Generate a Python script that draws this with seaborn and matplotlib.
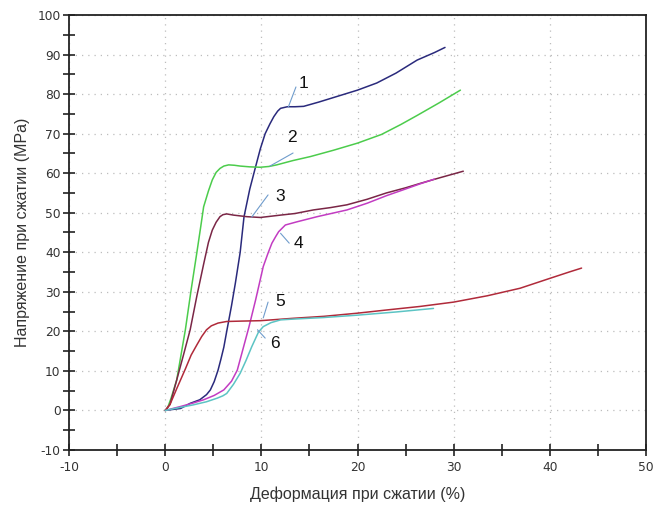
import matplotlib
matplotlib.use("Agg")
import matplotlib.pyplot as plt
import seaborn as sns
import pandas as pd
from matplotlib.ticker import MultipleLocator

# ---- data ----
x1 = [0, 0.6, 1.6, 2.6, 3.6, 4.3, 4.7, 5.1, 5.5, 5.8, 6.1, 6.4, 6.9, 7.3, 7.8, 8.2, 8.8, 9.4, 9.9, 10.4, 10.9, 11.3, 11.7, 12.0, 12.7, 13.5, 14.4, 16, 18, 20, 22, 24, 26.2, 28, 29.1]
y1 = [0, 0.2, 0.5, 1.8, 2.7, 4.0, 5.2, 7.3, 10.2, 13.0, 16.0, 20.0, 26.5, 32.2, 40.0, 49, 56, 61.6, 66.2, 70, 72.5, 74.3, 75.7, 76.4, 76.8, 76.8, 76.9, 78, 79.5, 81, 82.8, 85.3, 88.6, 90.5, 91.8]

x2 = [0, 0.2, 0.6, 1.2, 2.1, 2.7, 3.3, 3.7, 4.0, 4.5, 4.9, 5.3, 5.7, 6.1, 6.6, 7.2, 7.8, 8.8, 9.9, 10.8, 11.6, 13.3, 15.1, 17.5, 20, 22.5, 24.5, 26.2, 28.5, 30.7]
y2 = [0, 0.3, 3.0, 7.7, 20.4, 30.5, 40.0, 46.5, 51.5, 55.5, 58.3, 60.2, 61.2, 61.8, 62.1, 62.0, 61.8, 61.6, 61.5, 61.7, 62.1, 63.2, 64.2, 65.8, 67.6, 69.8, 72.3, 74.6, 77.8, 81]

x3 = [0, 0.5, 1.2, 1.9, 2.6, 3.3, 4.0, 4.5, 4.9, 5.3, 5.7, 6.0, 6.4, 7.1, 7.8, 8.5, 9.9, 12.0, 13.5, 15.4, 17.2, 18.9, 21, 23, 25, 26.5, 28.5, 31]
y3 = [0, 1.5, 7.7, 14.0, 20.4, 29.0, 37.0, 42.5, 45.6, 47.6, 49.0, 49.5, 49.7, 49.4, 49.2, 49.0, 48.8, 49.4, 49.8, 50.7, 51.3, 52.0, 53.4, 55.0, 56.3, 57.4, 58.8, 60.5]

x4 = [0, 0.8, 1.6, 2.8, 4.0, 5.1, 6.1, 6.9, 7.5, 7.9, 8.3, 8.7, 9.4, 10.2, 10.7, 11.1, 11.5, 11.8, 12.5, 13.7, 15.8, 18.9, 21, 23, 25, 26.5, 28.0]
y4 = [0, 0.5, 1.0, 1.8, 2.7, 3.8, 5.2, 7.4, 10.2, 13.8, 17.4, 21.0, 27.9, 36.4, 39.8, 42.3, 44.0, 45.2, 46.9, 47.7, 49.0, 50.7, 52.4, 54.3, 56.0, 57.3, 58.5]

x5 = [0, 0.5, 1.2, 2.1, 2.7, 3.3, 3.8, 4.3, 4.8, 5.5, 6.4, 8.0, 9.9, 13.3, 16.5, 20, 23, 26.5, 30, 33.5, 36.9, 40, 42, 43.3]
y5 = [0, 1.5, 5.5, 10.5, 14.0, 16.6, 18.7, 20.4, 21.4, 22.1, 22.5, 22.6, 22.7, 23.3, 23.8, 24.6, 25.4, 26.3, 27.4, 29.0, 30.9, 33.4, 35.0, 36.0]

x6 = [0, 1.0, 2.9, 4.3, 5.4, 6.0, 6.4, 7.1, 7.8, 8.4, 9.0, 9.7, 10.2, 11.0, 12.0, 13.3, 16.5, 20, 24, 27.9]
y6 = [0, 0.5, 1.4, 2.2, 3.1, 3.7, 4.3, 6.6, 9.4, 12.6, 16.1, 19.8, 21.2, 22.2, 22.9, 23.1, 23.5, 24.1, 24.9, 25.8]

series_names = ["1", "2", "3", "4", "5", "6"]
series_x = [x1, x2, x3, x4, x5, x6]
series_y = [y1, y2, y3, y4, y5, y6]
series_colors = ["#2a2a7c", "#4ccc4c", "#7a2646", "#c23cc2", "#b02a3a", "#5cc4c4"]

# label annotations: text position, leader line start and end
label_text_x = [14.4, 13.2, 12.0, 13.9, 12.0, 11.4]
label_text_y = [82.6, 68.9, 54.0, 42.3, 27.5, 17.0]
leader_x0 = [13.6, 13.3, 10.7, 12.0, 10.7, 10.4]
leader_y0 = [81.8, 65.1, 54.5, 44.8, 27.4, 18.3]
leader_x1 = [12.8, 10.9, 9.0, 12.9, 10.2, 9.6]
leader_y1 = [76.7, 61.8, 48.9, 42.3, 23.4, 20.4]

x_label = "Деформация при сжатии (%)"
y_label = "Напряжение при сжатии (MPa)"

rows = []
for name, xs, ys in zip(series_names, series_x, series_y):
    for i, (a, b) in enumerate(zip(xs, ys)):
        rows.append({"curve": name, "order": i, "strain": a, "stress": b})
df = pd.DataFrame(rows)

sns.set_theme(style="white")
plt.rcParams["font.family"] = ["DejaVu Sans"]
plt.rcParams["axes.unicode_minus"] = False

fig = plt.figure(figsize=(6.56, 5.07), dpi=100)
ax = fig.add_axes([69 / 656, 1 - 450 / 507, (646 - 69) / 656, (450 - 15) / 507])

sns.lineplot(data=df, x="strain", y="stress", hue="curve", units="curve",
             estimator=None, sort=False, palette=dict(zip(series_names, series_colors)),
             linewidth=1.1, legend=False, ax=ax)

ax.set_xlim(-10, 50)
ax.set_ylim(-10, 100)
ax.xaxis.set_major_locator(MultipleLocator(10))
ax.xaxis.set_minor_locator(MultipleLocator(5))
ax.yaxis.set_major_locator(MultipleLocator(10))
ax.yaxis.set_minor_locator(MultipleLocator(5))

ax.grid(True, which="major", color="#bdbdbd", linestyle=(0, (1, 4)), linewidth=0.9)
ax.set_axisbelow(True)

for s in ax.spines.values():
    s.set_visible(True)
    s.set_color("#222222")
    s.set_linewidth(1.3)

ax.tick_params(which="both", direction="inout", length=8, width=1.2, color="#222222",
               labelsize=8.8, labelcolor="#333333", bottom=True, left=True)
ax.tick_params(axis="x", pad=4)
ax.tick_params(axis="y", pad=2)

ax.set_xlabel(x_label, fontsize=11.5, family=["Liberation Sans"], color="#333333", labelpad=9)
ax.set_ylabel(y_label, fontsize=11.5, family=["Liberation Sans"], color="#333333", labelpad=5)

for t, tx, ty, a0, b0, a1, b1 in zip(series_names, label_text_x, label_text_y,
                                     leader_x0, leader_y0, leader_x1, leader_y1):
    ax.plot([a0, a1], [b0, b1], color="#6f9ccc", linewidth=0.8)
    ax.text(tx, ty, t, fontsize=12.5, family=["Liberation Sans"], color="#111111",
            ha="center", va="center")

fig.savefig("out.png", dpi=100)
